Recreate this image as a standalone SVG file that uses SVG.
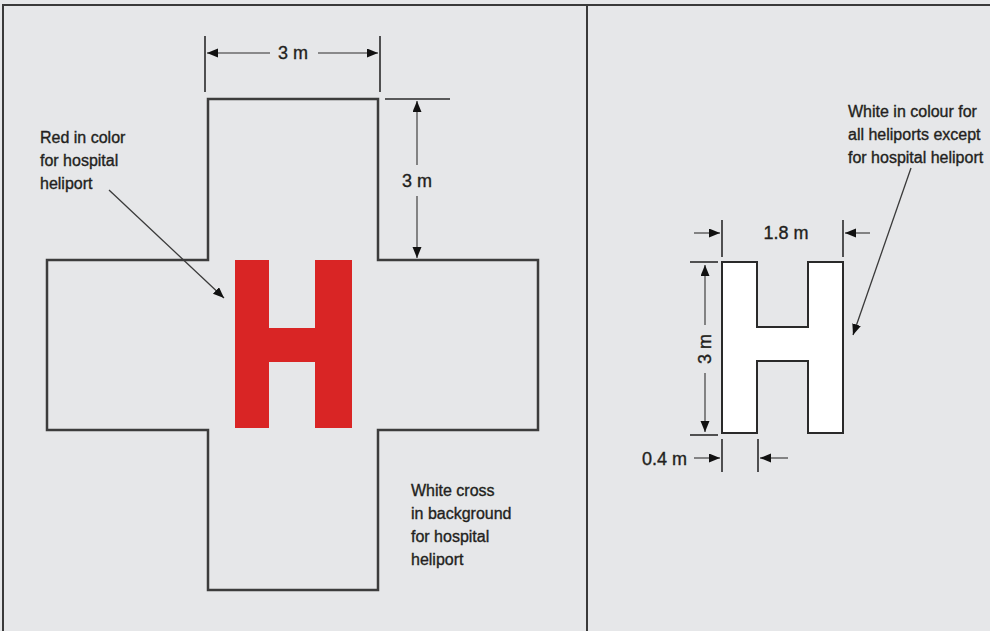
<svg xmlns="http://www.w3.org/2000/svg" width="990" height="631" viewBox="0 0 990 631">
<defs>
<style>
.frame{fill:none;stroke:#3a3a3a;stroke-width:2}
.outline{fill:none;stroke:#3c3c3c;stroke-width:2.5}
.ext{stroke:#2a2a2a;stroke-width:1.6;fill:none}
.dim{stroke:#6a6a6a;stroke-width:1.6;fill:none}
.lead{stroke:#3a3a3a;stroke-width:1.3;fill:none}
text{font-family:"Liberation Sans",Arial,sans-serif;fill:#231f20;font-size:16px;stroke:#231f20;stroke-width:0.35}
.c{text-anchor:middle}
.d{font-size:18px}
</style>
<marker id="ah" markerUnits="userSpaceOnUse" markerWidth="12" markerHeight="10" refX="11" refY="4.5" orient="auto">
<path d="M0,0 L11,4.5 L0,9 Z" fill="#111"/>
</marker>
</defs>
<rect width="990" height="631" fill="#e6e7e9"/>
<g id="frame">
<rect class="frame" x="3" y="5" width="1000" height="640"/>
<line class="frame" x1="587" y1="5" x2="587" y2="631"/>
</g>
<g id="cross">
<path class="outline" d="M208,99 H378 V260 H538 V430 H378 V590 H208 V430 H47 V260 H208 Z"/>
</g>
<g id="red-h">
<path fill="#d92525" d="M235,260 H269 V328 H315 V260 H352 V428 H315 V362 H269 V428 H235 Z"/>
</g>
<g id="white-h">
<path fill="#ffffff" stroke="#2a2a2a" stroke-width="2" d="M722,262 H757 V327 H808 V262 H843 V433 H808 V361 H757 V433 H722 Z"/>
</g>
<g id="connectors">
<line class="ext" x1="205" y1="36" x2="205" y2="92"/>
<line class="ext" x1="380" y1="36" x2="380" y2="92"/>
<line class="dim" x1="270" y1="53" x2="207" y2="53" marker-end="url(#ah)"/>
<line class="dim" x1="318" y1="53" x2="378" y2="53" marker-end="url(#ah)"/>
<line class="ext" x1="385" y1="99" x2="450" y2="99"/>
<line class="dim" x1="417" y1="165" x2="417" y2="101" marker-end="url(#ah)"/>
<line class="dim" x1="417" y1="196" x2="417" y2="258" marker-end="url(#ah)"/>
<line class="lead" x1="109" y1="190" x2="224" y2="298" marker-end="url(#ah)"/>
<line class="ext" x1="722" y1="220" x2="722" y2="257"/>
<line class="ext" x1="843" y1="220" x2="843" y2="257"/>
<line class="dim" x1="694" y1="233" x2="720" y2="233" marker-end="url(#ah)"/>
<line class="dim" x1="870" y1="233" x2="845" y2="233" marker-end="url(#ah)"/>
<line class="ext" x1="690" y1="262" x2="718" y2="262"/>
<line class="ext" x1="690" y1="435" x2="718" y2="435"/>
<line class="dim" x1="705" y1="325" x2="705" y2="265" marker-end="url(#ah)"/>
<line class="dim" x1="705" y1="373" x2="705" y2="432" marker-end="url(#ah)"/>
<line class="ext" x1="722" y1="439" x2="722" y2="472"/>
<line class="ext" x1="758" y1="439" x2="758" y2="472"/>
<line class="dim" x1="694" y1="458" x2="720" y2="458" marker-end="url(#ah)"/>
<line class="dim" x1="788" y1="458" x2="760" y2="458" marker-end="url(#ah)"/>
<line class="lead" x1="911" y1="168" x2="853" y2="335" marker-end="url(#ah)"/>
</g>
<g id="labels">
<text class="c d" x="293" y="59">3 m</text>
<text class="c d" x="417" y="187">3 m</text>
<text x="40" y="143">Red in color</text>
<text x="40" y="166">for hospital</text>
<text x="40" y="189">heliport</text>
<text class="c d" x="786" y="239">1.8 m</text>
<text class="c d" transform="translate(711,349) rotate(-90)">3 m</text>
<text class="d" x="642" y="465">0.4 m</text>
<text x="848" y="117">White in colour for</text>
<text x="848" y="140">all heliports except</text>
<text x="848" y="163">for hospital heliport</text>
<text x="411" y="496">White cross</text>
<text x="411" y="519">in background</text>
<text x="411" y="542">for hospital</text>
<text x="411" y="565">heliport</text>
</g>
</svg>
